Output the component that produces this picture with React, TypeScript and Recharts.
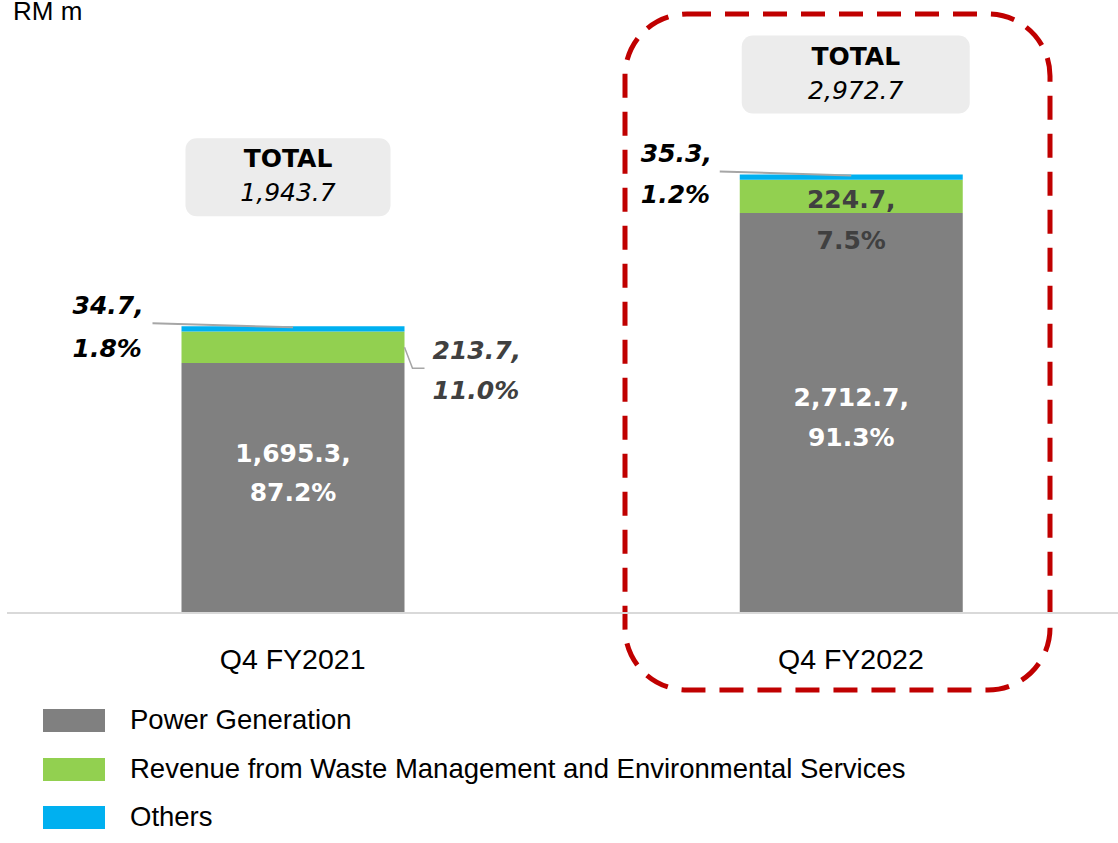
import React from 'react';
import { BarChart, Bar, XAxis, YAxis, LabelList, Customized } from 'recharts';

const categories = ['Q4 FY2021', 'Q4 FY2022'];
const powerGeneration = [1695.3, 2712.7];
const wasteServices = [213.7, 224.7];
const others = [34.7, 35.3];
const totals = [1943.7, 2972.7];
const powerShare = ['87.2%', '91.3%'];
const wasteShare = ['11.0%', '7.5%'];
const othersShare = ['1.8%', '1.2%'];

const seriesNames = ['Power Generation', 'Revenue from Waste Management and Environmental Services', 'Others'];
const colors = ['#808080', '#92d050', '#00b0f0'];

const REG = '"Liberation Sans", Arial, sans-serif';
const BOLD = '"DejaVu Sans", sans-serif';

const data = categories.map((name, i) => ({
  name,
  power: powerGeneration[i],
  waste: wasteServices[i],
  others: others[i],
}));

const fmt = (v: number) => v.toLocaleString('en-US', { minimumFractionDigits: 1, maximumFractionDigits: 1 });

// label offsets, per bar
const powerOffsets = [[-26, 13], [-7, 33]];

const PowerLabel = (props: any) => {
  const { x, y, width, height, index } = props;
  const cx = x + width / 2;
  const cy = y + height / 2;
  const [a, b] = powerOffsets[index];
  return (
    <text x={cx} textAnchor="middle" fill="#fff" fontWeight={700} fontSize={25} fontFamily={BOLD}>
      <tspan x={cx} y={cy + a}>{fmt(powerGeneration[index])},</tspan>
      <tspan x={cx} y={cy + b}>{powerShare[index]}</tspan>
    </text>
  );
};

const WasteLabel = (props: any) => {
  const { x, y, width, height, index } = props;
  const my = y + height / 2;
  if (index === 0) {
    const rx = x + width;
    return (
      <g>
        <polyline points={`${rx},${my} ${rx + 8},${my + 21} ${rx + 20},${my + 21}`} fill="none" stroke="#a6a6a6" strokeWidth={1.5} />
        <text fill="#404040" fontWeight={700} fontStyle="italic" fontSize={25} fontFamily={BOLD}>
          <tspan x={rx + 28} y={my + 12}>{fmt(wasteServices[index])},</tspan>
          <tspan x={rx + 28} y={my + 52}>{wasteShare[index]}</tspan>
        </text>
      </g>
    );
  }
  const cx = x + width / 2;
  return (
    <text x={cx} textAnchor="middle" fill="#404040" fontWeight={700} fontSize={25} fontFamily={BOLD}>
      <tspan x={cx} y={my + 12}>{fmt(wasteServices[index])},</tspan>
      <tspan x={cx} y={my + 53}>{wasteShare[index]}</tspan>
    </text>
  );
};

const othersLayout = [
  { textX: -109, lineX: -29, t1: -12, t2: 31, box: { dx: 4, top: -188, w: 205 } },
  { textX: -99, lineX: -20, t1: -13, t2: 28, box: { dx: 2, top: -139, w: 228 } },
];

const OthersLabel = (props: any) => {
  const { x, y, width, index } = props;
  const l = othersLayout[index];
  const cx = x + width / 2;
  const bx = x + l.box.dx;
  const by = y + l.box.top;
  return (
    <g>
      <line x1={x + l.lineX} y1={y - 3} x2={cx} y2={y + 1} stroke="#a6a6a6" strokeWidth={2} />
      <text fill="#000" fontWeight={700} fontStyle="italic" fontSize={25} fontFamily={BOLD}>
        <tspan x={x + l.textX} y={y + l.t1}>{fmt(others[index])},</tspan>
        <tspan x={x + l.textX} y={y + l.t2}>{othersShare[index]}</tspan>
      </text>
      <rect x={bx} y={by} width={l.box.w} height={78} rx={11} fill="#ececec" />
      <text x={bx + l.box.w / 2} textAnchor="middle" fill="#000" fontFamily={BOLD}>
        <tspan x={bx + l.box.w / 2} y={by + 29} fontWeight={700} fontSize={25}>TOTAL</tspan>
        <tspan x={bx + l.box.w / 2} y={by + 63} fontStyle="italic" fontSize={25}>{fmt(totals[index])}</tspan>
      </text>
    </g>
  );
};

const Overlay = () => (
  <g>
    <text x={13} y={20} fontFamily={REG} fontSize={26} fill="#000">RM m</text>
    <rect x={625} y={14} width={425} height={676} rx={62} fill="none" stroke="#c00000" strokeWidth={5} strokeDasharray="24 14" />
  </g>
);

const legendRows = [720, 769, 817];

export default function App() {
  return (
    <div style={{ position: 'absolute', left: 0, top: 0, width: 1118, height: 843, overflow: 'hidden', background: '#fff' }}>
      <BarChart width={1130} height={843} data={data} margin={{ top: 23, right: 0, bottom: 170, left: 7 }} barSize={223}>
        <XAxis
          dataKey="name"
          padding={{ left: 6.5, right: 0 }}
          tickLine={false}
          axisLine={{ stroke: '#d9d9d9', strokeWidth: 2 }}
          tick={{ fill: '#000', fontSize: 28.5, fontFamily: REG }}
          tickMargin={30}
          height={60}
        />
        <YAxis hide domain={[0, 4000]} />
        <Bar dataKey="power" stackId="a" fill={colors[0]} isAnimationActive={false}>
          <LabelList dataKey="power" content={PowerLabel} />
        </Bar>
        <Bar dataKey="waste" stackId="a" fill={colors[1]} isAnimationActive={false}>
          <LabelList dataKey="waste" content={WasteLabel} />
        </Bar>
        <Bar dataKey="others" stackId="a" fill={colors[2]} isAnimationActive={false}>
          <LabelList dataKey="others" content={OthersLabel} />
        </Bar>
        <Customized component={Overlay} />
      </BarChart>
      {seriesNames.map((n, i) => (
        <div
          key={n}
          style={{ position: 'absolute', left: 43, top: legendRows[i] - 16, height: 32, display: 'flex', alignItems: 'center', fontFamily: REG, fontSize: 27.5, color: '#000', whiteSpace: 'nowrap' }}
        >
          <span style={{ display: 'inline-block', width: 62, height: 23, background: colors[i], marginRight: 25 }} />
          <span>{n}</span>
        </div>
      ))}
    </div>
  );
}
